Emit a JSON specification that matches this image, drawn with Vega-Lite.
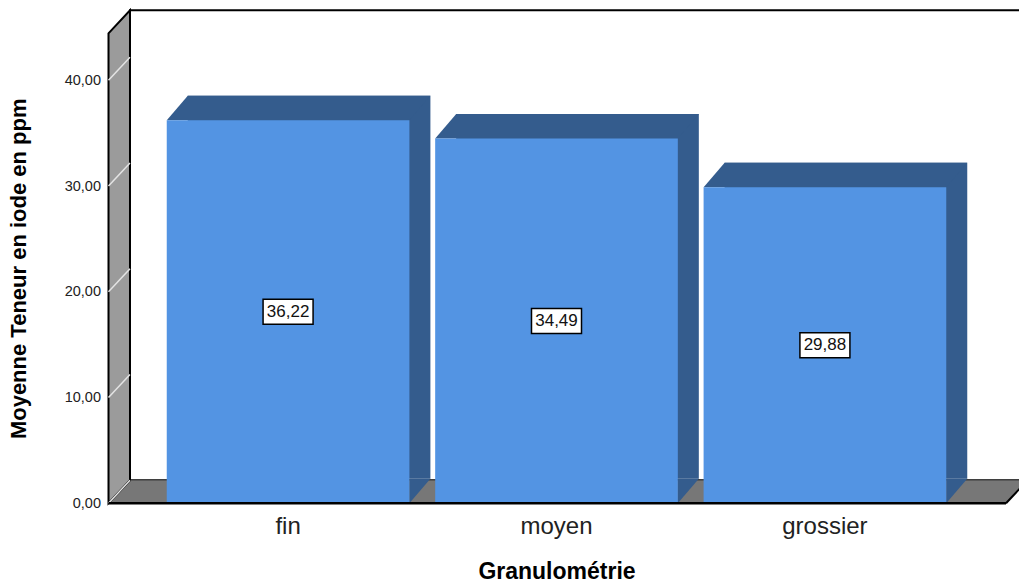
{
  "$schema": "https://vega.github.io/schema/vega-lite/v6.json",
  "width": 896,
  "height": 470,
  "autosize": {"type": "none"},
  "padding": {"left": 108.5, "top": 33.3, "right": 15, "bottom": 83.7},
  "background": "white",
  "config": {
    "view": {"stroke": null},
    "font": "Liberation Sans",
    "locale": {"number": {"decimal": ",", "thousands": " ", "grouping": [3], "currency": ["", " €"]}}
  },
  "datasets": {
    "bars": [
      {"g": "fin", "v": 36.22},
      {"g": "moyen", "v": 34.49},
      {"g": "grossier", "v": 29.88}
    ],
    "ticks": [{"t": 0}, {"t": 10}, {"t": 20}, {"t": 30}, {"t": 40}]
  },
  "layer": [
    {
      "layer": [
        {
          "data": {"values": [{}]},
          "mark": {"type": "rect", "fill": "white", "stroke": "black", "strokeWidth": 2, "xOffset": 21.5, "x2Offset": 21.5, "yOffset": -23, "y2Offset": -23},
          "encoding": {"x": {"value": 0}, "x2": {"value": "width"}, "y": {"value": 0}, "y2": {"value": "height"}}
        },
        {
          "data": {"values": [{}]},
          "mark": {"type": "point", "shape": "M0,0L21.5,-23L919,-23L897.5,0Z", "size": 4, "filled": true, "fill": "#777777", "opacity": 1, "strokeWidth": 0},
          "encoding": {"x": {"value": 0}, "y": {"datum": 0, "type": "quantitative"}}
        },
        {
          "data": {"values": [{}]},
          "mark": {"type": "point", "shape": "M0,0L0,-470L21.5,-493L21.5,-23Z", "size": 4, "filled": true, "fill": "#9b9b9b", "opacity": 1, "stroke": "black", "strokeWidth": 2},
          "encoding": {"x": {"value": 0}, "y": {"datum": 0, "type": "quantitative"}}
        },
        {
          "data": {"name": "ticks"},
          "mark": {"type": "rule", "color": "#e4e4e4", "strokeWidth": 1.5, "x2Offset": 21.5, "y2Offset": -23},
          "encoding": {
            "x": {"value": 0},
            "x2": {"value": 0},
            "y": {"field": "t", "type": "quantitative"},
            "y2": {"field": "t"}
          }
        },
        {
          "data": {"name": "bars"},
          "mark": {"type": "bar", "color": "#345c8d", "xOffset": 21, "yOffset": -24.5, "y2Offset": -24.5},
          "encoding": {
            "x": {"field": "g", "type": "nominal", "sort": ["fin", "moyen", "grossier"], "scale": {"paddingInner": 0.096, "paddingOuter": 0.217},
              "axis": {"title": "Granulométrie", "titleFontSize": 23, "titleFontWeight": "bold", "titleColor": "black", "titlePadding": 22, "labelFontSize": 24, "labelColor": "#222222", "labelPadding": 11, "labelAngle": 0, "domain": false, "ticks": false}},
            "y": {"field": "v", "type": "quantitative", "scale": {"domain": [0, 44.44], "nice": false},
              "axis": {"title": "Moyenne Teneur en iode en ppm", "values": [0, 10, 20, 30, 40], "format": ".2f", "labelFontSize": 14.5, "labelColor": "#222222", "labelPadding": 8, "domain": false, "ticks": false, "grid": false, "titleFontSize": 22, "titleFontWeight": "bold", "titleColor": "black", "titlePadding": 34}},
            "y2": {"datum": 0}
          }
        },
        {
          "data": {"name": "bars"},
          "mark": {"type": "point", "shape": "M-121.3,0L121.3,0L142.3,-24.5L-100.3,-24.5Z", "size": 4, "filled": true, "fill": "#345c8d", "opacity": 1, "strokeWidth": 0},
          "encoding": {
            "x": {"field": "g", "type": "nominal", "sort": ["fin", "moyen", "grossier"]},
            "y": {"field": "v", "type": "quantitative"}
          }
        },
        {
          "data": {"name": "bars"},
          "mark": {"type": "point", "shape": "M121.3,0L142.3,-24.5L121.3,-24.5Z", "size": 4, "filled": true, "fill": "#345c8d", "opacity": 1, "strokeWidth": 0},
          "encoding": {
            "x": {"field": "g", "type": "nominal", "sort": ["fin", "moyen", "grossier"]},
            "y": {"datum": 0, "type": "quantitative"}
          }
        },
        {
          "data": {"name": "bars"},
          "mark": {"type": "bar", "color": "#5394e3"},
          "encoding": {
            "x": {"field": "g", "type": "nominal", "sort": ["fin", "moyen", "grossier"]},
            "y": {"field": "v", "type": "quantitative"},
            "y2": {"datum": 0}
          }
        },
        {
          "data": {"values": [{}]},
          "mark": {"type": "rule", "color": "black", "strokeWidth": 2.5, "x2Offset": 1.5},
          "encoding": {"x": {"value": 0}, "x2": {"value": "width"}, "y": {"datum": 0, "type": "quantitative"}}
        },
        {
          "data": {"values": [{}]},
          "mark": {"type": "rule", "color": "black", "strokeWidth": 2, "xOffset": 1.5, "x2Offset": 23, "y2Offset": -23},
          "encoding": {"x": {"value": "width"}, "x2": {"value": "width"}, "y": {"datum": 0, "type": "quantitative"}, "y2": {"datum": 0}}
        }
      ]
    },
    {
      "data": {"name": "bars"},
      "encoding": {
        "x": {"field": "g", "type": "nominal", "sort": ["fin", "moyen", "grossier"]},
        "y": {"field": "v", "type": "quantitative", "scale": {"domain": [0, 88.88], "nice": false}, "axis": null}
      },
      "layer": [
        {
          "mark": {"type": "point", "shape": "M-25,-12.5L25,-12.5L25,12.5L-25,12.5Z", "size": 4, "filled": true, "fill": "white", "opacity": 1, "stroke": "black", "strokeWidth": 1.5}
        },
        {
          "mark": {"type": "text", "fontSize": 17, "color": "#111111", "align": "center", "baseline": "middle"},
          "encoding": {"text": {"field": "v", "type": "quantitative", "format": ".2f"}}
        }
      ]
    }
  ],
  "resolve": {"scale": {"y": "independent"}}
}
